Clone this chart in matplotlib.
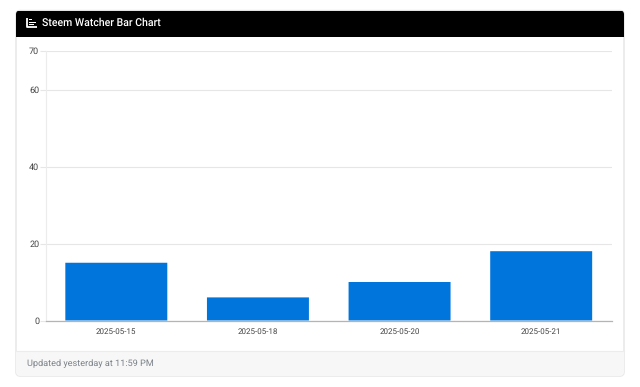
import matplotlib
matplotlib.use('Agg')
import matplotlib.pyplot as plt
from matplotlib.patches import FancyBboxPatch, Rectangle

W, H = 640, 387

dates = ['2025-05-15', '2025-05-18', '2025-05-20', '2025-05-21']
counts = [15, 6, 10, 18]
y_ticks = [0, 20, 40, 60, 70]

plt.rcParams['font.family'] = 'Roboto'
plt.rcParams['text.hinting'] = 'no_hinting'

fig = plt.figure(figsize=(W / 100, H / 100), dpi=100, facecolor='white')

# everything on the card is placed in pixels, y going down
bg = fig.add_axes([0, 0, 1, 1], zorder=0)
bg.set_xlim(0, W)
bg.set_ylim(H, 0)
bg.axis('off')

# card with rounded corners, header and footer clipped to it
card = FancyBboxPatch((16, 10.5), 608, 365.5, boxstyle='round,pad=0,rounding_size=4',
                      fc='white', ec='#e4e4e4', lw=1)
bg.add_patch(card)
header = Rectangle((16, 10.5), 608, 26.5, fc='black', ec='none')
footer = Rectangle((16, 351), 608, 25, fc='#f7f7f7', ec='none')
bg.add_patch(header)
bg.add_patch(footer)
header.set_clip_path(card)
footer.set_clip_path(card)
bg.plot([16, 624], [351, 351], color='#ececec', lw=0.8)

# chart-bar icon
bg.plot([27, 27, 37], [18, 27, 27], color='white', lw=1.3, solid_capstyle='butt')
bg.add_patch(Rectangle((29, 19), 3, 1.4, fc='white', ec='none'))
bg.add_patch(Rectangle((29, 21.6), 6.5, 1.4, fc='white', ec='none'))
bg.add_patch(Rectangle((29, 24), 4.5, 1.4, fc='white', ec='none'))

bg.text(42, 23, 'Steem Watcher Bar Chart', color='white', fontsize=7.6, va='center', ha='left',
        fontweight='medium')
bg.text(27, 363.5, 'Updated yesterday at 11:59 PM', color='#7b8288', fontsize=6.6,
        va='center', ha='left')

# plot area: x 45.5-612, y 51-320.5
ax = fig.add_axes([45.5 / W, 1 - 320.5 / H, 566.5 / W, 269.5 / H], zorder=1)
ax.patch.set_alpha(0)
bars = ax.bar(dates, counts, width=0.72, color='#0075dc', zorder=3)
for b in bars:
    b.set_snap(False)
ax.set_xlim(-0.5, len(dates) - 0.5)
ax.set_ylim(0, 70)
ax.set_yticks(y_ticks)
ax.grid(axis='y', color='#e6e6e6', lw=0.8, zorder=0)
ax.tick_params(axis='y', length=4, color='#e6e6e6', width=0.8, labelsize=6.5,
               labelcolor='#444444', pad=0.5)
ax.tick_params(axis='x', length=0, labelsize=5.8, labelcolor='#444444', pad=5.5)
for s in ['top', 'right']:
    ax.spines[s].set_visible(False)
ax.spines['left'].set_color('#ececec')
ax.spines['left'].set_linewidth(0.8)
ax.spines['bottom'].set_color('#b4b4b4')
ax.spines['bottom'].set_linewidth(0.9)
ax.spines['bottom'].set_zorder(4)

fig.savefig('out.png', dpi=100)
plt.close(fig)
